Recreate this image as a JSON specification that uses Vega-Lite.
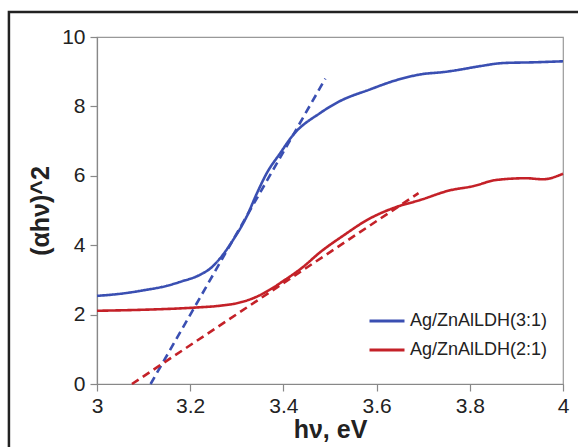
{
  "$schema": "https://vega.github.io/schema/vega-lite/v6.json",
  "width": 466,
  "height": 347,
  "autosize": {"type": "none"},
  "padding": {"left": 97, "top": 37, "right": 15, "bottom": 63},
  "background": "white",
  "config": {
    "view": {"stroke": "#999", "strokeWidth": 1.2},
    "font": "Liberation Sans",
    "axis": {
      "grid": false,
      "domainColor": "#888",
      "domainWidth": 1.2,
      "tickColor": "#888",
      "tickWidth": 1.2,
      "tickSize": 7,
      "labelColor": "#222",
      "labelFont": "Liberation Sans",
      "labelFontSize": 21,
      "labelFontWeight": "normal",
      "titleFont": "Liberation Sans",
      "titleFontWeight": "bold",
      "titleColor": "#222",
      "labelOverlap": false,
      "labelBound": false,
      "labelFlush": false
    }
  },
  "datasets": {
    "curves": [
      {"x": 3.00, "y": 2.54, "series": "Ag/ZnAlLDH(3:1)", "kind": "data"},
      {"x": 3.05, "y": 2.60, "series": "Ag/ZnAlLDH(3:1)", "kind": "data"},
      {"x": 3.10, "y": 2.70, "series": "Ag/ZnAlLDH(3:1)", "kind": "data"},
      {"x": 3.15, "y": 2.83, "series": "Ag/ZnAlLDH(3:1)", "kind": "data"},
      {"x": 3.18, "y": 2.95, "series": "Ag/ZnAlLDH(3:1)", "kind": "data"},
      {"x": 3.22, "y": 3.14, "series": "Ag/ZnAlLDH(3:1)", "kind": "data"},
      {"x": 3.245, "y": 3.35, "series": "Ag/ZnAlLDH(3:1)", "kind": "data"},
      {"x": 3.264, "y": 3.62, "series": "Ag/ZnAlLDH(3:1)", "kind": "data"},
      {"x": 3.292, "y": 4.15, "series": "Ag/ZnAlLDH(3:1)", "kind": "data"},
      {"x": 3.321, "y": 4.82, "series": "Ag/ZnAlLDH(3:1)", "kind": "data"},
      {"x": 3.343, "y": 5.49, "series": "Ag/ZnAlLDH(3:1)", "kind": "data"},
      {"x": 3.364, "y": 6.07, "series": "Ag/ZnAlLDH(3:1)", "kind": "data"},
      {"x": 3.393, "y": 6.65, "series": "Ag/ZnAlLDH(3:1)", "kind": "data"},
      {"x": 3.421, "y": 7.18, "series": "Ag/ZnAlLDH(3:1)", "kind": "data"},
      {"x": 3.479, "y": 7.81, "series": "Ag/ZnAlLDH(3:1)", "kind": "data"},
      {"x": 3.521, "y": 8.15, "series": "Ag/ZnAlLDH(3:1)", "kind": "data"},
      {"x": 3.586, "y": 8.49, "series": "Ag/ZnAlLDH(3:1)", "kind": "data"},
      {"x": 3.636, "y": 8.73, "series": "Ag/ZnAlLDH(3:1)", "kind": "data"},
      {"x": 3.693, "y": 8.92, "series": "Ag/ZnAlLDH(3:1)", "kind": "data"},
      {"x": 3.75, "y": 9.00, "series": "Ag/ZnAlLDH(3:1)", "kind": "data"},
      {"x": 3.779, "y": 9.06, "series": "Ag/ZnAlLDH(3:1)", "kind": "data"},
      {"x": 3.822, "y": 9.16, "series": "Ag/ZnAlLDH(3:1)", "kind": "data"},
      {"x": 3.872, "y": 9.25, "series": "Ag/ZnAlLDH(3:1)", "kind": "data"},
      {"x": 3.936, "y": 9.27, "series": "Ag/ZnAlLDH(3:1)", "kind": "data"},
      {"x": 4.00, "y": 9.30, "series": "Ag/ZnAlLDH(3:1)", "kind": "data"},
      {"x": 3.00, "y": 2.11, "series": "Ag/ZnAlLDH(2:1)", "kind": "data"},
      {"x": 3.10, "y": 2.14, "series": "Ag/ZnAlLDH(2:1)", "kind": "data"},
      {"x": 3.18, "y": 2.18, "series": "Ag/ZnAlLDH(2:1)", "kind": "data"},
      {"x": 3.22, "y": 2.21, "series": "Ag/ZnAlLDH(2:1)", "kind": "data"},
      {"x": 3.26, "y": 2.25, "series": "Ag/ZnAlLDH(2:1)", "kind": "data"},
      {"x": 3.31, "y": 2.36, "series": "Ag/ZnAlLDH(2:1)", "kind": "data"},
      {"x": 3.34, "y": 2.50, "series": "Ag/ZnAlLDH(2:1)", "kind": "data"},
      {"x": 3.37, "y": 2.71, "series": "Ag/ZnAlLDH(2:1)", "kind": "data"},
      {"x": 3.40, "y": 2.97, "series": "Ag/ZnAlLDH(2:1)", "kind": "data"},
      {"x": 3.44, "y": 3.35, "series": "Ag/ZnAlLDH(2:1)", "kind": "data"},
      {"x": 3.48, "y": 3.81, "series": "Ag/ZnAlLDH(2:1)", "kind": "data"},
      {"x": 3.53, "y": 4.29, "series": "Ag/ZnAlLDH(2:1)", "kind": "data"},
      {"x": 3.58, "y": 4.73, "series": "Ag/ZnAlLDH(2:1)", "kind": "data"},
      {"x": 3.64, "y": 5.09, "series": "Ag/ZnAlLDH(2:1)", "kind": "data"},
      {"x": 3.693, "y": 5.30, "series": "Ag/ZnAlLDH(2:1)", "kind": "data"},
      {"x": 3.757, "y": 5.58, "series": "Ag/ZnAlLDH(2:1)", "kind": "data"},
      {"x": 3.807, "y": 5.70, "series": "Ag/ZnAlLDH(2:1)", "kind": "data"},
      {"x": 3.857, "y": 5.88, "series": "Ag/ZnAlLDH(2:1)", "kind": "data"},
      {"x": 3.921, "y": 5.93, "series": "Ag/ZnAlLDH(2:1)", "kind": "data"},
      {"x": 3.957, "y": 5.90, "series": "Ag/ZnAlLDH(2:1)", "kind": "data"},
      {"x": 4.00, "y": 6.06, "series": "Ag/ZnAlLDH(2:1)", "kind": "data"},
      {"x": 3.115, "y": 0.0, "series": "Ag/ZnAlLDH(3:1)", "kind": "fit"},
      {"x": 3.49, "y": 8.8, "series": "Ag/ZnAlLDH(3:1)", "kind": "fit"},
      {"x": 3.075, "y": 0.0, "series": "Ag/ZnAlLDH(2:1)", "kind": "fit"},
      {"x": 3.69, "y": 5.5, "series": "Ag/ZnAlLDH(2:1)", "kind": "fit"}
    ]
  },
  "layer": [
    {
      "data": {"values": [{"a": 1}]},
      "mark": {"type": "rect", "fill": null, "stroke": "#222", "strokeWidth": 2.5, "clip": false},
      "encoding": {
        "x": {"datum": 2.811, "type": "quantitative"},
        "x2": {"datum": 4.15},
        "y": {"datum": 10.72, "type": "quantitative"},
        "y2": {"datum": -2.5}
      }
    },
    {
      "data": {"name": "curves"},
      "mark": {"type": "line", "strokeWidth": 2.6, "interpolate": "monotone"},
      "encoding": {
        "x": {
          "field": "x", "type": "quantitative",
          "scale": {"domain": [3, 4], "nice": false, "zero": false},
          "axis": {"values": [3, 3.2, 3.4, 3.6, 3.8, 4], "format": "~g", "title": "hν, eV", "titleFontSize": 25, "titlePadding": 1, "labelPadding": 4}
        },
        "y": {
          "field": "y", "type": "quantitative",
          "scale": {"domain": [0, 10], "nice": false},
          "axis": {"values": [0, 2, 4, 6, 8, 10], "title": "(αhν)^2", "titleFontSize": 25, "titlePadding": 8, "labelPadding": 5}
        },
        "color": {
          "field": "series", "type": "nominal",
          "scale": {"domain": ["Ag/ZnAlLDH(3:1)", "Ag/ZnAlLDH(2:1)"], "range": ["#3a4fb2", "#c42128"]},
          "legend": {
            "title": null,
            "orient": "none",
            "legendX": 271,
            "legendY": 265,
            "symbolType": "stroke",
            "symbolSize": 1225,
            "symbolStrokeWidth": 3,
            "labelFont": "Liberation Sans",
            "labelFontSize": 18,
            "labelColor": "#222",
            "labelOffset": 4,
            "rowPadding": 1
          }
        },
        "strokeDash": {
          "field": "kind", "type": "nominal",
          "scale": {"domain": ["data", "fit"], "range": [[1, 0], [8, 5]]},
          "legend": null
        },
        "detail": {"field": "kind"}
      }
    }
  ]
}
